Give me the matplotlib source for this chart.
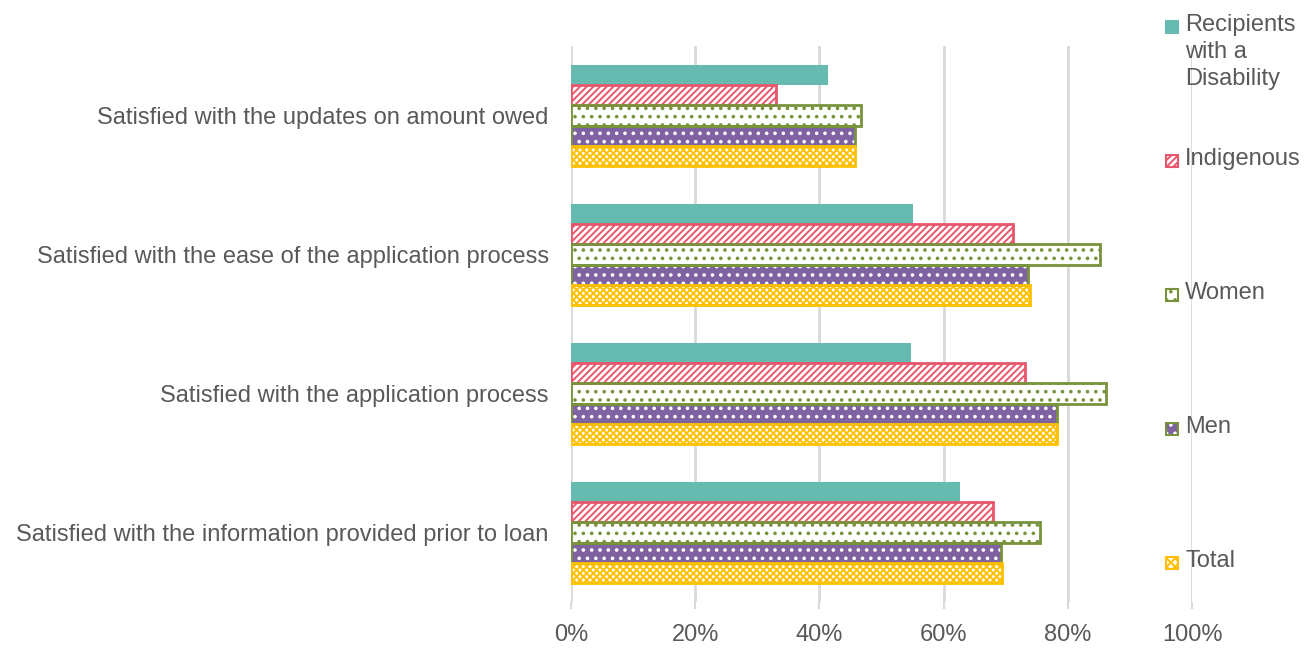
import matplotlib
matplotlib.use("Agg")
import matplotlib.pyplot as plt
from matplotlib.patches import Rectangle
import numpy as np

plt.rcParams['font.family'] = ['Liberation Sans', 'DejaVu Sans']
plt.rcParams['hatch.linewidth'] = 1.4

categories = [
    "Satisfied with the information provided prior to loan",
    "Satisfied with the application process",
    "Satisfied with the ease of the application process",
    "Satisfied with the updates on amount owed",
]
series_names = ["Recipients\nwith a\nDisability", "Indigenous", "Women", "Men", "Total"]
disability = [62.6, 54.8, 55.1, 41.4]
indigenous = [68.0, 73.1, 71.2, 33.0]
women = [75.5, 86.2, 85.2, 46.7]
men = [69.2, 78.3, 73.6, 45.7]
total = [69.4, 78.3, 73.9, 45.7]
xticks = [0, 20, 40, 60, 80, 100]
xtick_labels = ["0%", "20%", "40%", "60%", "80%", "100%"]

TEXT = "#595959"
GRID = "#D9D9D9"
TEAL = "#66BBB0"
RED = "#E8566B"
GREEN = "#77933C"
PURPLE = "#7E62A1"
YELLOW = "#FFC000"
FS = 17

fig = plt.figure(figsize=(13.15, 6.55), dpi=100)
ax = fig.add_axes([571/1315, 1-602/655, (1192-571)/1315, (602-46)/655])

y = np.arange(len(categories))
h = 0.144
offs = [2*h, h, 0, -h, -2*h]

series = [disability, indigenous, women, men, total]
styles = [
    dict(color=TEAL, edgecolor=TEAL, linewidth=0),
    dict(color="white", edgecolor=RED, hatch="/////", linewidth=0),
    dict(color="white", edgecolor=GREEN, hatch="..", linewidth=0),
    dict(color=PURPLE, edgecolor="white", hatch="..", linewidth=0),
    dict(color="white", edgecolor=YELLOW, hatch="xxxxx", linewidth=0),
]
outline = [None, RED, GREEN, GREEN, YELLOW]

for vals, off, st, oc in zip(series, offs, styles, outline):
    ax.barh(y + off, vals, height=h, zorder=3, **st)
    if oc is not None:
        ax.barh(y + off, vals, height=h, zorder=4, fill=False,
                edgecolor=oc, linewidth=2)

ax.set_xlim(0, 100)
ax.set_ylim(-0.5, len(categories) - 0.5)
ax.set_xticks(xticks)
ax.set_xticklabels(xtick_labels, fontsize=FS, color=TEXT)
ax.set_yticks(y)
ax.set_yticklabels(categories, fontsize=FS, color=TEXT)
ax.tick_params(axis='y', length=0, pad=16)
ax.tick_params(axis='x', length=5, color=GRID, width=1.5, pad=11)
for s in ax.spines.values():
    s.set_visible(False)
ax.xaxis.grid(True, color=GRID, linewidth=2, zorder=0)
ax.set_axisbelow(True)

# Legend (manually placed to mimic the original layout)
leg_y = [27, 161, 295, 429, 563]
leg_fill = [TEAL, "white", "white", PURPLE, "white"]
leg_edge = [TEAL, RED, GREEN, GREEN, YELLOW]
leg_hatch = [None, "/////", "..", "..", "xxxx"]
for name, yy, fc, ec, hc in zip(series_names, leg_y, leg_fill, leg_edge, leg_hatch):
    x0 = 1166 / 1315
    y0 = 1 - (yy + 6) / 655
    r = Rectangle((x0, y0), 12/1315, 12/655, transform=fig.transFigure,
                  facecolor=fc, edgecolor=("white" if fc == PURPLE else ec),
                  hatch=hc, linewidth=0)
    fig.add_artist(r)
    fig.add_artist(Rectangle((x0, y0), 12/1315, 12/655, transform=fig.transFigure,
                             fill=False, edgecolor=ec, linewidth=1.5))
    fig.text(1185/1315, 1 - (yy - 13)/655, name, fontsize=FS, color=TEXT,
             va='top', ha='left', linespacing=1.3)

fig.savefig("out.png", dpi=100)
